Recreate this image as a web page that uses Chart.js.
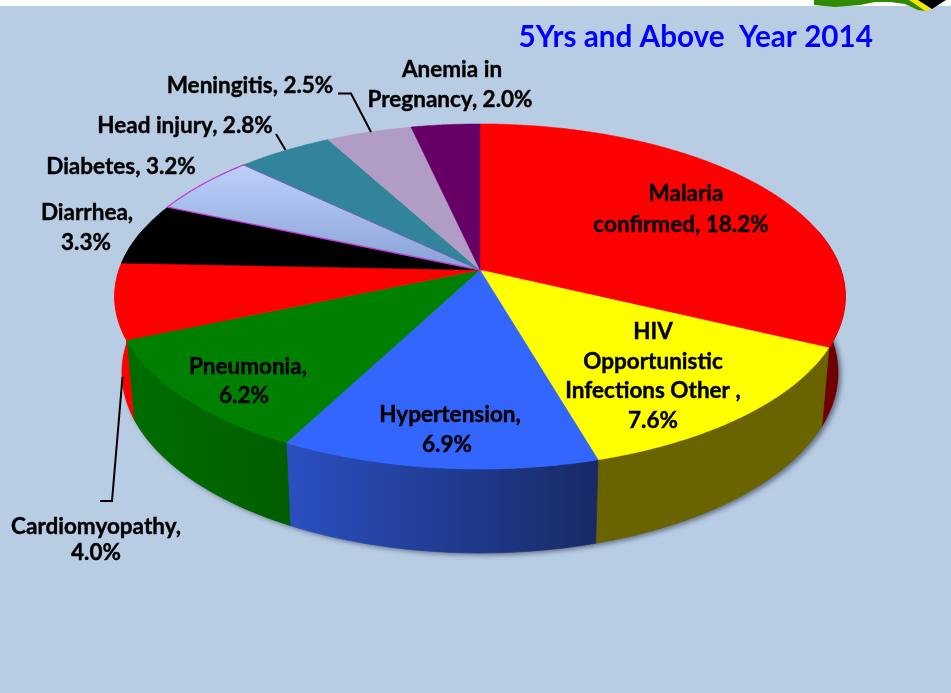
<!DOCTYPE html>
<html><head><meta charset="utf-8">
<style>html,body{margin:0;padding:0;background:#b8cce4}canvas{display:block}</style>
<script src="https://cdn.jsdelivr.net/npm/chart.js@4"></script>
</head><body>
<canvas id="c" width="951" height="693"></canvas>
<script>
const categories = ["Malaria confirmed","HIV Opportunistic Infections Other","Hypertension","Pneumonia","Cardiomyopathy","Diarrhea","Diabetes","Head injury","Meningitis","Anemia in Pregnancy"];
const values = [18.2,7.6,6.9,6.2,4.0,3.3,3.2,2.8,2.5,2.0];
const topColors = ["#ff0000","#ffff00","#3366ff","#008000","#ff0000","#000000","#b4c8f6","#318499","#b09cc4","#660066"];
const wallLeft  = ["#700000","#696300","#2a4fc0","#006c00","#ff0000","#000000","#8aa4d8","#255f70","#806f90","#440044"];
const wallRight = ["#700000","#696300","#182a66","#005e00","#ff0000","#000000","#8aa4d8","#255f70","#806f90","#440044"];
const labelLines = [["Malaria","confirmed, 18.2%"],["HIV","Opportunistic","Infections Other ,","7.6%"],["Hypertension,","6.9%"],["Pneumonia,","6.2%"],["Cardiomyopathy,","4.0%"],["Diarrhea,","3.3%"],["Diabetes, 3.2%"],["Head injury, 2.8%"],["Meningitis, 2.5%"],["Anemia in","Pregnancy, 2.0%"]];
const labelX = [[686,681],[653,653,653,653],[450,447],[248,244],[96,96],[87,86],[121],[185],[250],[452,450]];
const labelY = [[194,225],[332,362,391,421],[415,445],[367,396],[527,553],[213,243],[167],[126],[86],[70,100]];
const leaders = [[[100,501],[112,501],[122.5,377]],[[276,134],[285.5,150]],[[338,93.5],[351,93.5],[371,132]]];
const titleText = "5Yrs and Above  Year 2014";

// perspective projection of the pie disc
const CX=480, AY=270, K=361, KY=168.5, P=0.1536, BC=345, BK=176, BS=0.98;
const topPt=(a)=>{const u=Math.cos(a),v=Math.sin(a),w=1-P*v;return [CX+K*u/w,AY+KY*v/w];};
const botPt=(a)=>{const u=Math.cos(a),v=Math.sin(a),w=1-P*v;return [CX+BS*K*u/w,BC+BK*v/w];};

const poly=(c,color,pts)=>{c.fillStyle=color;c.beginPath();pts.forEach((p,i)=>i?c.lineTo(p[0],p[1]):c.moveTo(p[0],p[1]));c.closePath();c.fill();};
const sceneryPlugin={id:'scenery',beforeDraw(chart){
  const c=chart.ctx;c.save();
  c.fillStyle='#b8cce4';c.fillRect(0,0,951,693);
  c.fillStyle='#ffffff';c.fillRect(0,0,951,6);
  poly(c,'#2f8a00',[[814,0],[814,5],[835,7],[860,5],[875,2],[890,2],[905,4],[918,10],[926,11],[920,0]]);
  poly(c,'#f6e600',[[909,0],[918,6],[925,11],[932,9],[918,0]]);
  poly(c,'#000000',[[918,0],[932,9],[946,0]]);
  c.restore();
}};

const pie3dPlugin={id:'pie3d',beforeDatasetDraw(chart,args){
  const c=chart.ctx,arcs=args.meta.data,STEP=Math.PI/180;
  c.save();
  // soft shadow under the body
  c.save();c.shadowColor='rgba(40,50,70,0.6)';c.shadowBlur=5;c.shadowOffsetX=3;c.shadowOffsetY=2;c.fillStyle='#6b7a90';
  c.beginPath();for(let a=-0.15;a<=Math.PI+0.15;a+=STEP){const p=botPt(a);a<=-0.15?c.moveTo(p[0],p[1]):c.lineTo(p[0],p[1]);}c.closePath();c.fill();c.restore();
  // side walls
  arcs.forEach((arc,i)=>{
    const s=arc.startAngle,e=arc.endAngle;
    const xs=botPt(s)[0],xe=botPt(e)[0];
    const g=c.createLinearGradient(Math.min(xs,xe),0,Math.max(xs,xe)+1,0);
    g.addColorStop(0,wallLeft[i]);g.addColorStop(1,wallRight[i]);
    c.fillStyle=g;c.strokeStyle=g;c.lineWidth=0.7;
    c.beginPath();let first=true;
    for(let a=s;a<e;a+=STEP){if(Math.sin(a)<-0.25)continue;const p=topPt(a);first?c.moveTo(p[0],p[1]):c.lineTo(p[0],p[1]);first=false;}
    if(first)return;
    if(Math.sin(e)>=-0.25){const p=topPt(e);c.lineTo(p[0],p[1]);const q=botPt(e);c.lineTo(q[0],q[1]);}
    for(let a=e;a>s;a-=STEP){if(Math.sin(a)<-0.25)continue;const p=botPt(a);c.lineTo(p[0],p[1]);}
    if(Math.sin(s)>=-0.25){const q=botPt(s);c.lineTo(q[0],q[1]);}
    c.closePath();c.fill();c.stroke();
  });
  // top faces
  arcs.forEach((arc,i)=>{
    const s=arc.startAngle,e=arc.endAngle;
    c.beginPath();c.moveTo(CX,AY);
    for(let a=s;a<e;a+=STEP/2){const p=topPt(a);c.lineTo(p[0],p[1]);}
    const pe=topPt(e);c.lineTo(pe[0],pe[1]);c.closePath();
    if(i===6){
      const g=c.createLinearGradient(0,165,0,270);
      g.addColorStop(0,'#bcd0fa');g.addColorStop(1,'#88a2d6');
      c.fillStyle=g;c.strokeStyle='#c040d0';c.lineWidth=1.3;c.fill();c.stroke();
    }else{
      c.fillStyle=topColors[i];c.strokeStyle=topColors[i];c.lineWidth=0.5;c.fill();c.stroke();
    }
  });
  c.restore();
  return false;
},afterDatasetsDraw(chart){
  const c=chart.ctx;c.save();
  c.strokeStyle='#000';c.lineWidth=2;
  leaders.forEach(l=>{c.beginPath();l.forEach((p,i)=>i?c.lineTo(p[0],p[1]):c.moveTo(p[0],p[1]));c.stroke();});
  c.fillStyle='#000';c.font='bold 22.5px Lato, Carlito, sans-serif';c.textAlign='center';c.textBaseline='middle';c.lineWidth=0.4;
  labelLines.forEach((lines,i)=>lines.forEach((t,j)=>{c.fillText(t,labelX[i][j],labelY[i][j]);c.strokeText(t,labelX[i][j],labelY[i][j]);}));
  c.restore();
}};

new Chart(document.getElementById('c'),{
  type:'pie',
  data:{labels:categories,datasets:[{data:values,backgroundColor:topColors,borderWidth:0}]},
  plugins:[sceneryPlugin,pie3dPlugin],
  options:{
    responsive:false,animation:false,events:[],
    layout:{padding:{right:78,top:20}},
    plugins:{
      legend:{display:false},tooltip:{enabled:false},
      title:{display:true,text:titleText,align:'end',color:'#0000ff',font:{family:'Lato, Carlito, sans-serif',size:29.7,weight:'bold'},padding:{top:0,bottom:6}}
    }
  }
});
</script>
</body></html>
